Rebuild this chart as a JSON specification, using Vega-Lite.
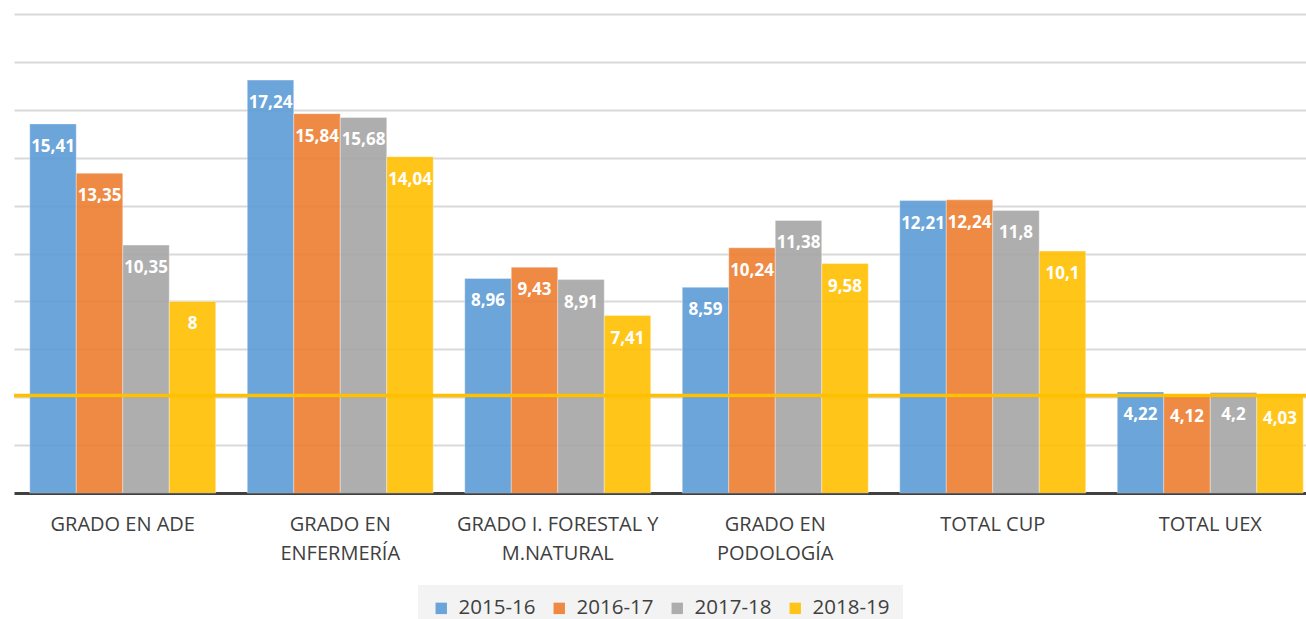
{
  "$schema": "https://vega.github.io/schema/vega-lite/v6.json",
  "width": 1292,
  "height": 479,
  "autosize": {"type": "none"},
  "padding": {"left": 14, "top": 14, "right": 0, "bottom": 126},
  "background": "white",
  "datasets": {
    "bars": [
      {"cat": "GRADO EN ADE", "year": "2015-16", "v": 15.41},
      {"cat": "GRADO EN ADE", "year": "2016-17", "v": 13.35},
      {"cat": "GRADO EN ADE", "year": "2017-18", "v": 10.35},
      {"cat": "GRADO EN ADE", "year": "2018-19", "v": 8},
      {"cat": "GRADO EN ENFERMERÍA", "year": "2015-16", "v": 17.24},
      {"cat": "GRADO EN ENFERMERÍA", "year": "2016-17", "v": 15.84},
      {"cat": "GRADO EN ENFERMERÍA", "year": "2017-18", "v": 15.68},
      {"cat": "GRADO EN ENFERMERÍA", "year": "2018-19", "v": 14.04},
      {"cat": "GRADO I. FORESTAL Y M.NATURAL", "year": "2015-16", "v": 8.96},
      {"cat": "GRADO I. FORESTAL Y M.NATURAL", "year": "2016-17", "v": 9.43},
      {"cat": "GRADO I. FORESTAL Y M.NATURAL", "year": "2017-18", "v": 8.91},
      {"cat": "GRADO I. FORESTAL Y M.NATURAL", "year": "2018-19", "v": 7.41},
      {"cat": "GRADO EN PODOLOGÍA", "year": "2015-16", "v": 8.59},
      {"cat": "GRADO EN PODOLOGÍA", "year": "2016-17", "v": 10.24},
      {"cat": "GRADO EN PODOLOGÍA", "year": "2017-18", "v": 11.38},
      {"cat": "GRADO EN PODOLOGÍA", "year": "2018-19", "v": 9.58},
      {"cat": "TOTAL CUP", "year": "2015-16", "v": 12.21},
      {"cat": "TOTAL CUP", "year": "2016-17", "v": 12.24},
      {"cat": "TOTAL CUP", "year": "2017-18", "v": 11.8},
      {"cat": "TOTAL CUP", "year": "2018-19", "v": 10.1},
      {"cat": "TOTAL UEX", "year": "2015-16", "v": 4.22},
      {"cat": "TOTAL UEX", "year": "2016-17", "v": 4.12},
      {"cat": "TOTAL UEX", "year": "2017-18", "v": 4.2},
      {"cat": "TOTAL UEX", "year": "2018-19", "v": 4.03}
    ],
    "ref": [{"ref": 4.07}]
  },
  "layer": [
    {
      "data": {"name": "bars"},
      "mark": {"type": "bar", "fillOpacity": 0.9, "stroke": "white", "strokeOpacity": 0.35, "strokeWidth": 1},
      "encoding": {
        "x": {"field": "cat", "type": "nominal", "sort": null,
          "scale": {"range": [0, 1305], "paddingInner": 0, "paddingOuter": 0},
          "axis": {
            "title": null, "labelAngle": 0, "ticks": false, "grid": false,
            "domain": true, "domainColor": "#404040", "domainWidth": 3,
            "labelFont": "Open Sans", "labelFontSize": 20, "labelColor": "#404040",
            "labelPadding": 21, "labelLineHeight": 29, "labelBaseline": "top", "labelLimit": 300,
            "labelExpr": "datum.value == 'GRADO EN ENFERMERÍA' ? ['GRADO EN','ENFERMERÍA'] : datum.value == 'GRADO I. FORESTAL Y M.NATURAL' ? ['GRADO I. FORESTAL Y','M.NATURAL'] : datum.value == 'GRADO EN PODOLOGÍA' ? ['GRADO EN','PODOLOGÍA'] : datum.label"
          }},
        "xOffset": {"field": "year", "type": "nominal", "sort": null,
          "scale": {"paddingInner": 0, "paddingOuter": 0.339}},
        "y": {"field": "v", "type": "quantitative",
          "scale": {"domain": [0, 20], "nice": false},
          "axis": {"title": null, "labels": false, "ticks": false, "domain": false,
            "grid": true, "gridColor": "#d9d9d9", "gridWidth": 2, "values": [2,4,6,8,10,12,14,16,18,20]}},
        "color": {"field": "year", "type": "nominal", "sort": null,
          "scale": {"range": ["#5b9bd5", "#ed7d31", "#a5a5a5", "#ffc000"]},
          "legend": {
            "title": null, "orient": "bottom", "direction": "horizontal",
            "symbolType": "square", "symbolSize": 130, "symbolStrokeWidth": 0, "symbolOpacity": 0.9,
            "labelFont": "Open Sans", "labelFontSize": 20.5, "labelColor": "#404040",
            "labelOffset": 7, "columnPadding": 13,
            "fillColor": "#f3f3f3", "padding": 13, "offset": 22
          }}
      }
    },
    {
      "data": {"name": "bars"},
      "mark": {"type": "text", "baseline": "middle", "align": "center", "dy": 23,
        "color": "white", "font": "Open Sans", "fontWeight": "bold", "fontSize": 17},
      "encoding": {
        "x": {"field": "cat", "type": "nominal", "sort": null},
        "xOffset": {"field": "year", "type": "nominal", "sort": null},
        "y": {"field": "v", "type": "quantitative"},
        "text": {"field": "v", "type": "quantitative", "format": ".6~g"}
      }
    },
    {
      "data": {"name": "ref"},
      "mark": {"type": "rule", "color": "#ffc000", "strokeWidth": 3.5},
      "encoding": {
        "y": {"field": "ref", "type": "quantitative"}
      }
    }
  ],
  "config": {
    "view": {"stroke": null},
    "locale": {"number": {"decimal": ",", "thousands": ".", "grouping": [3], "currency": ["", " €"]}},
    "legend": {"layout": {"bottom": {"anchor": "middle"}}}
  }
}
